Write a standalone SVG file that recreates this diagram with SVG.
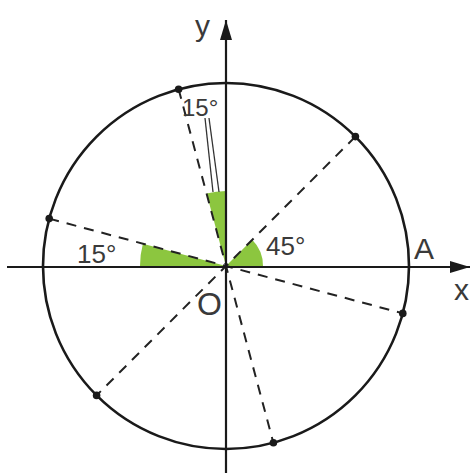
<svg xmlns="http://www.w3.org/2000/svg" width="473" height="473" viewBox="0 0 473 473">
<style>
.sector{fill:#8cc63f;stroke:none}
.dash{stroke:#222;stroke-width:2;stroke-dasharray:10 8;fill:none}
.axis{stroke:#1a1a1a;stroke-width:2.2;fill:none}
.circ{stroke:#1a1a1a;stroke-width:2.6;fill:none}
.dot{fill:#1a1a1a}
.lbl{font-family:"Liberation Sans",Arial,sans-serif;fill:#3a3a3a}
.ptr{stroke:#333;stroke-width:1.3}
</style>
<defs>
<marker id="arr" viewBox="0 0 20 12" refX="20" refY="6" markerWidth="20" markerHeight="12" markerUnits="userSpaceOnUse" orient="auto">
<path d="M0,0 L20,6 L0,12 Z" fill="#1a1a1a"/>
</marker>
</defs>
<rect width="473" height="473" fill="#fff"/>
<g id="sectors">
<path class="sector" d="M226,266 L263,266 A37,37 0 0 0 252.2,239.8 Z"/>
<path class="sector" d="M226,266 L226,191 A75,75 0 0 0 206.6,193.6 Z"/>
<path class="sector" d="M226,266 L142.9,243.7 A86,86 0 0 0 140,266 Z"/>
</g>
<g id="connectors">
<line class="dash" x1="355.4" y1="136.6" x2="96.6" y2="395.4"/>
<line class="dash" x1="178.6" y1="89.2" x2="273.4" y2="442.8"/>
<line class="dash" x1="49.2" y1="218.6" x2="402.8" y2="313.4"/>
<line class="axis" x1="7" y1="267" x2="470" y2="267" marker-end="url(#arr)"/>
<line class="axis" x1="226" y1="473" x2="226" y2="20" marker-end="url(#arr)"/>
<line class="ptr" x1="205" y1="118" x2="213" y2="192"/>
<line class="ptr" x1="209" y1="118" x2="219" y2="192"/>
</g>
<g id="circle">
<circle class="circ" cx="226" cy="266" r="183"/>
<circle class="dot" cx="355.4" cy="136.6" r="3.8"/>
<circle class="dot" cx="178.6" cy="89.2" r="3.8"/>
<circle class="dot" cx="49.2" cy="218.6" r="3.8"/>
<circle class="dot" cx="96.6" cy="395.4" r="3.8"/>
<circle class="dot" cx="273.4" cy="442.8" r="3.8"/>
<circle class="dot" cx="402.8" cy="313.4" r="3.8"/>
</g>
<g id="labels">
<text class="lbl" x="182" y="116" font-size="24">15°</text>
<text class="lbl" x="77" y="263" font-size="26">15°</text>
<text class="lbl" x="266" y="255" font-size="26">45°</text>
<text class="lbl" x="414" y="259" font-size="30">A</text>
<text class="lbl" x="454" y="300" font-size="30">x</text>
<text class="lbl" x="195" y="36" font-size="30">y</text>
<text class="lbl" x="197" y="315" font-size="32">O</text>
</g>
</svg>
